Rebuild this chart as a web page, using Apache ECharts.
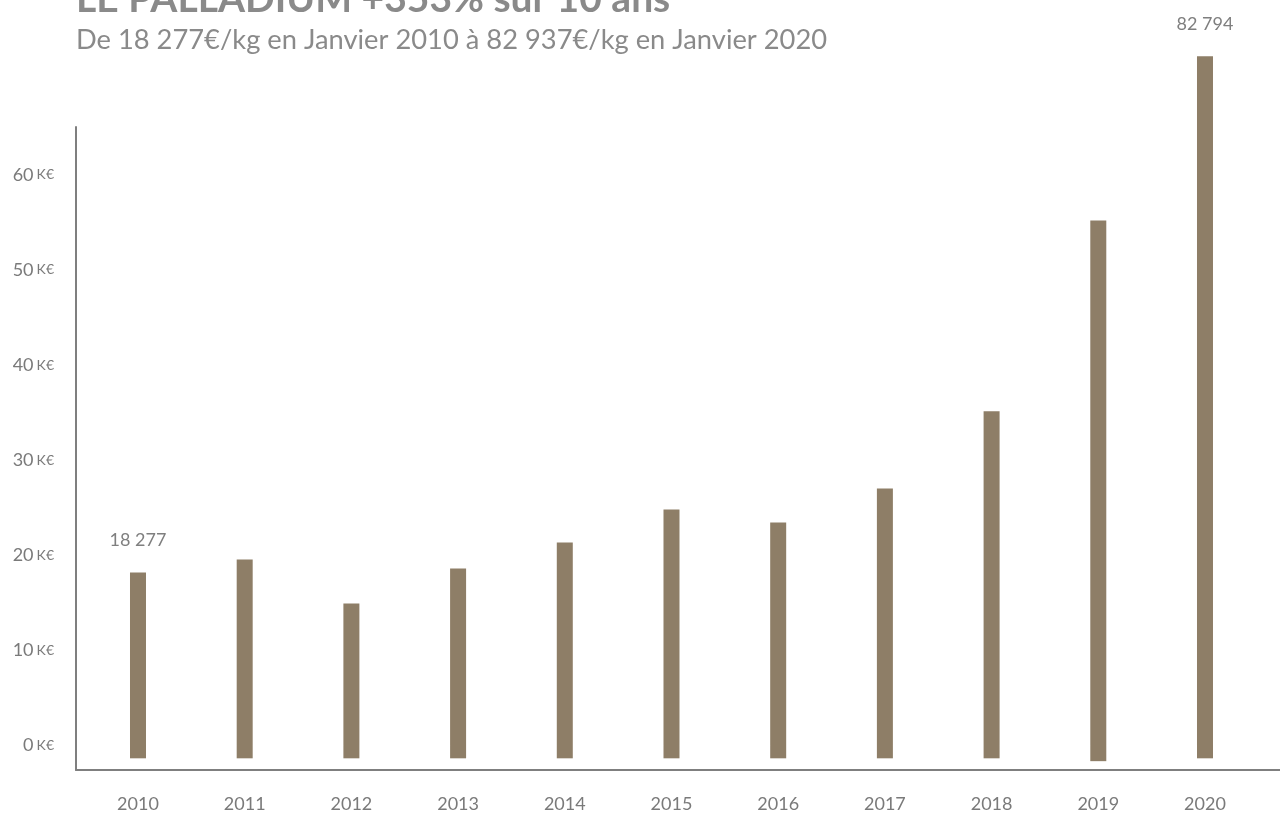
<!DOCTYPE html>
<html>
<head>
<meta charset="utf-8">
<script src="https://cdn.jsdelivr.net/npm/echarts@6/dist/echarts.min.js"></script>
<style>
html,body{margin:0;padding:0;background:#fff;}
#chart{width:1280px;height:813px;}
</style>
</head>
<body>
<div id="chart"></div>
<script>
// ---- data ----
const years = [2010, 2011, 2012, 2013, 2014, 2015, 2016, 2017, 2018, 2019, 2020];
// price per kg in K€
const values = [18.16, 19.53, 14.89, 18.58, 21.32, 24.79, 23.42, 27.0, 35.14, 55.21, 72.5];
// small foot that each bar shows below the zero line in the reference
const barFoot = [-1.4, -1.4, -1.4, -1.4, -1.4, -1.4, -1.4, -1.4, -1.4, -1.7, -1.4];
// value annotations shown above some bars
const barNotes = ['18 277', '', '', '', '', '', '', '', '', '', '82 794'];
const yTicks = [0, 10, 20, 30, 40, 50, 60];
const titleText = 'LE PALLADIUM +353% sur 10 ans';
const subtitleText = 'De 18 277€/kg en Janvier 2010 à 82 937€/kg en Janvier 2020';

const FONT = 'Lato, "Noto Sans", sans-serif';
const BAR = '#8e7e67';
const GREY = '#7f7f7f';

const chart = echarts.init(document.getElementById('chart'), null, {renderer: 'canvas'});

const mainData = years.map((y, i) => ({
  value: [y, values[i]],
  label: barNotes[i] ? {show: true, formatter: barNotes[i]} : {show: false}
}));
const footData = years.map((y, i) => [y, barFoot[i]]);

chart.setOption({
  animation: false,
  backgroundColor: '#ffffff',
  textStyle: {fontFamily: FONT},
  title: [
    {
      text: titleText, left: 71, top: -25,
      textStyle: {fontFamily: FONT, fontSize: 39, fontWeight: 'bold', color: '#8a8a8a'}
    },
    {
      text: subtitleText, left: 71, top: 22,
      textStyle: {fontFamily: FONT, fontSize: 27.3, fontWeight: 'normal', color: '#8a8a8a'}
    }
  ],
  grid: {left: 76, right: 0, top: 127, bottom: 43, containLabel: false},
  xAxis: {
    type: 'value',
    min: 2009.419,
    max: 2020.703,
    splitLine: {show: false},
    axisTick: {show: false},
    axisLine: {show: true, onZero: false, lineStyle: {color: GREY, width: 2}},
    axisLabel: {
      customValues: years,
      formatter: v => String(v),
      color: '#7a7a7a', fontSize: 18, fontFamily: FONT, margin: 25
    }
  },
  yAxis: {
    type: 'value',
    min: -2.63,
    max: 65.05,
    splitLine: {show: false},
    axisTick: {show: false},
    axisLine: {show: true, onZero: false, lineStyle: {color: GREY, width: 2}},
    axisLabel: {
      customValues: yTicks,
      margin: 22,
      formatter: v => '{n|' + v + '} {u|K€}',
      rich: {
        n: {fontSize: 18, color: '#7a7a7a', fontFamily: FONT},
        u: {fontSize: 14, color: '#7a7a7a', fontFamily: FONT}
      }
    }
  },
  series: [
    {
      type: 'bar',
      data: mainData,
      barWidth: 16,
      barGap: '-100%',
      clip: false,
      itemStyle: {color: BAR},
      label: {position: 'top', distance: 23, color: '#7f7f7f', fontSize: 18, fontFamily: FONT},
      z: 3
    },
    {
      type: 'bar',
      data: footData,
      barWidth: 16,
      barGap: '-100%',
      clip: false,
      itemStyle: {color: BAR},
      z: 2
    }
  ]
});
</script>
</body>
</html>
